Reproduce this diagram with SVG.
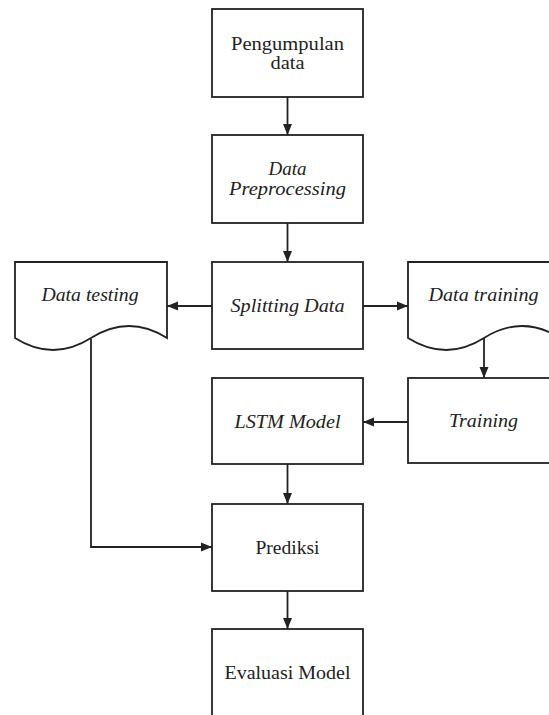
<svg xmlns="http://www.w3.org/2000/svg" width="549" height="715" viewBox="0 0 549 715">
<style>
.box{fill:#fff;stroke:#222;stroke-width:1.8}
.ln{fill:none;stroke:#222;stroke-width:1.8}
text{font-family:"Liberation Serif","Times New Roman",serif;font-size:18px;fill:#222;text-anchor:middle}
.it{font-style:italic}
</style>
<defs>
<marker id="ah" viewBox="0 0 11 10" refX="11" refY="5" markerWidth="11" markerHeight="10" markerUnits="userSpaceOnUse" orient="auto">
<path d="M0,0.5 L11,5 L0,9.5 Z" fill="#222"/>
</marker>
</defs>
<rect width="549" height="715" fill="#fff"/>
<g id="connectors">
<line class="ln" x1="287.5" y1="97" x2="287.5" y2="135" marker-end="url(#ah)"/>
<line class="ln" x1="287.5" y1="223" x2="287.5" y2="262" marker-end="url(#ah)"/>
<line class="ln" x1="212" y1="306" x2="167" y2="306" marker-end="url(#ah)"/>
<line class="ln" x1="363" y1="306" x2="408" y2="306" marker-end="url(#ah)"/>
<line class="ln" x1="484" y1="338" x2="484" y2="378" marker-end="url(#ah)"/>
<line class="ln" x1="408" y1="422" x2="363" y2="422" marker-end="url(#ah)"/>
<line class="ln" x1="287.5" y1="464" x2="287.5" y2="504" marker-end="url(#ah)"/>
<polyline class="ln" points="91,339 91,547 212,547" marker-end="url(#ah)"/>
<line class="ln" x1="287.5" y1="591" x2="287.5" y2="629" marker-end="url(#ah)"/>
</g>
<g id="pengumpulan">
<rect class="box" x="212" y="9" width="151" height="88"/>
<text x="287.5" y="50" textLength="113" lengthAdjust="spacingAndGlyphs">Pengumpulan</text>
<text x="287.5" y="69" textLength="34" lengthAdjust="spacingAndGlyphs">data</text>
</g>
<g id="preprocessing">
<rect class="box" x="212" y="135" width="151" height="88"/>
<text class="it" x="287.5" y="175" textLength="38" lengthAdjust="spacingAndGlyphs">Data</text>
<text class="it" x="287.5" y="195" textLength="117" lengthAdjust="spacingAndGlyphs">Preprocessing</text>
</g>
<g id="splitting">
<rect class="box" x="212" y="262" width="151" height="87"/>
<text class="it" x="287.5" y="312" textLength="114" lengthAdjust="spacingAndGlyphs">Splitting Data</text>
</g>
<g id="testing">
<path class="box" d="M15,262 L167,262 L167,338 Q129,314 91,338 Q53,362 15,338 Z"/>
<text class="it" x="90" y="301" textLength="97" lengthAdjust="spacingAndGlyphs">Data testing</text>
</g>
<g id="datatraining">
<path class="box" d="M408,262 L560,262 L560,338 Q522,314 484,338 Q446,362 408,338 Z"/>
<text class="it" x="483.5" y="301" textLength="110" lengthAdjust="spacingAndGlyphs">Data training</text>
</g>
<g id="training">
<rect class="box" x="408" y="378" width="150" height="85"/>
<text class="it" x="483.5" y="427" textLength="69" lengthAdjust="spacingAndGlyphs">Training</text>
</g>
<g id="lstm">
<rect class="box" x="212" y="378" width="151" height="86"/>
<text class="it" x="287.5" y="428" textLength="106" lengthAdjust="spacingAndGlyphs">LSTM Model</text>
</g>
<g id="prediksi">
<rect class="box" x="212" y="504" width="151" height="87"/>
<text x="287.5" y="554" textLength="64" lengthAdjust="spacingAndGlyphs">Prediksi</text>
</g>
<g id="evaluasi">
<rect class="box" x="212" y="629" width="151" height="100"/>
<text x="287.5" y="679" textLength="126" lengthAdjust="spacingAndGlyphs">Evaluasi Model</text>
</g>
</svg>
